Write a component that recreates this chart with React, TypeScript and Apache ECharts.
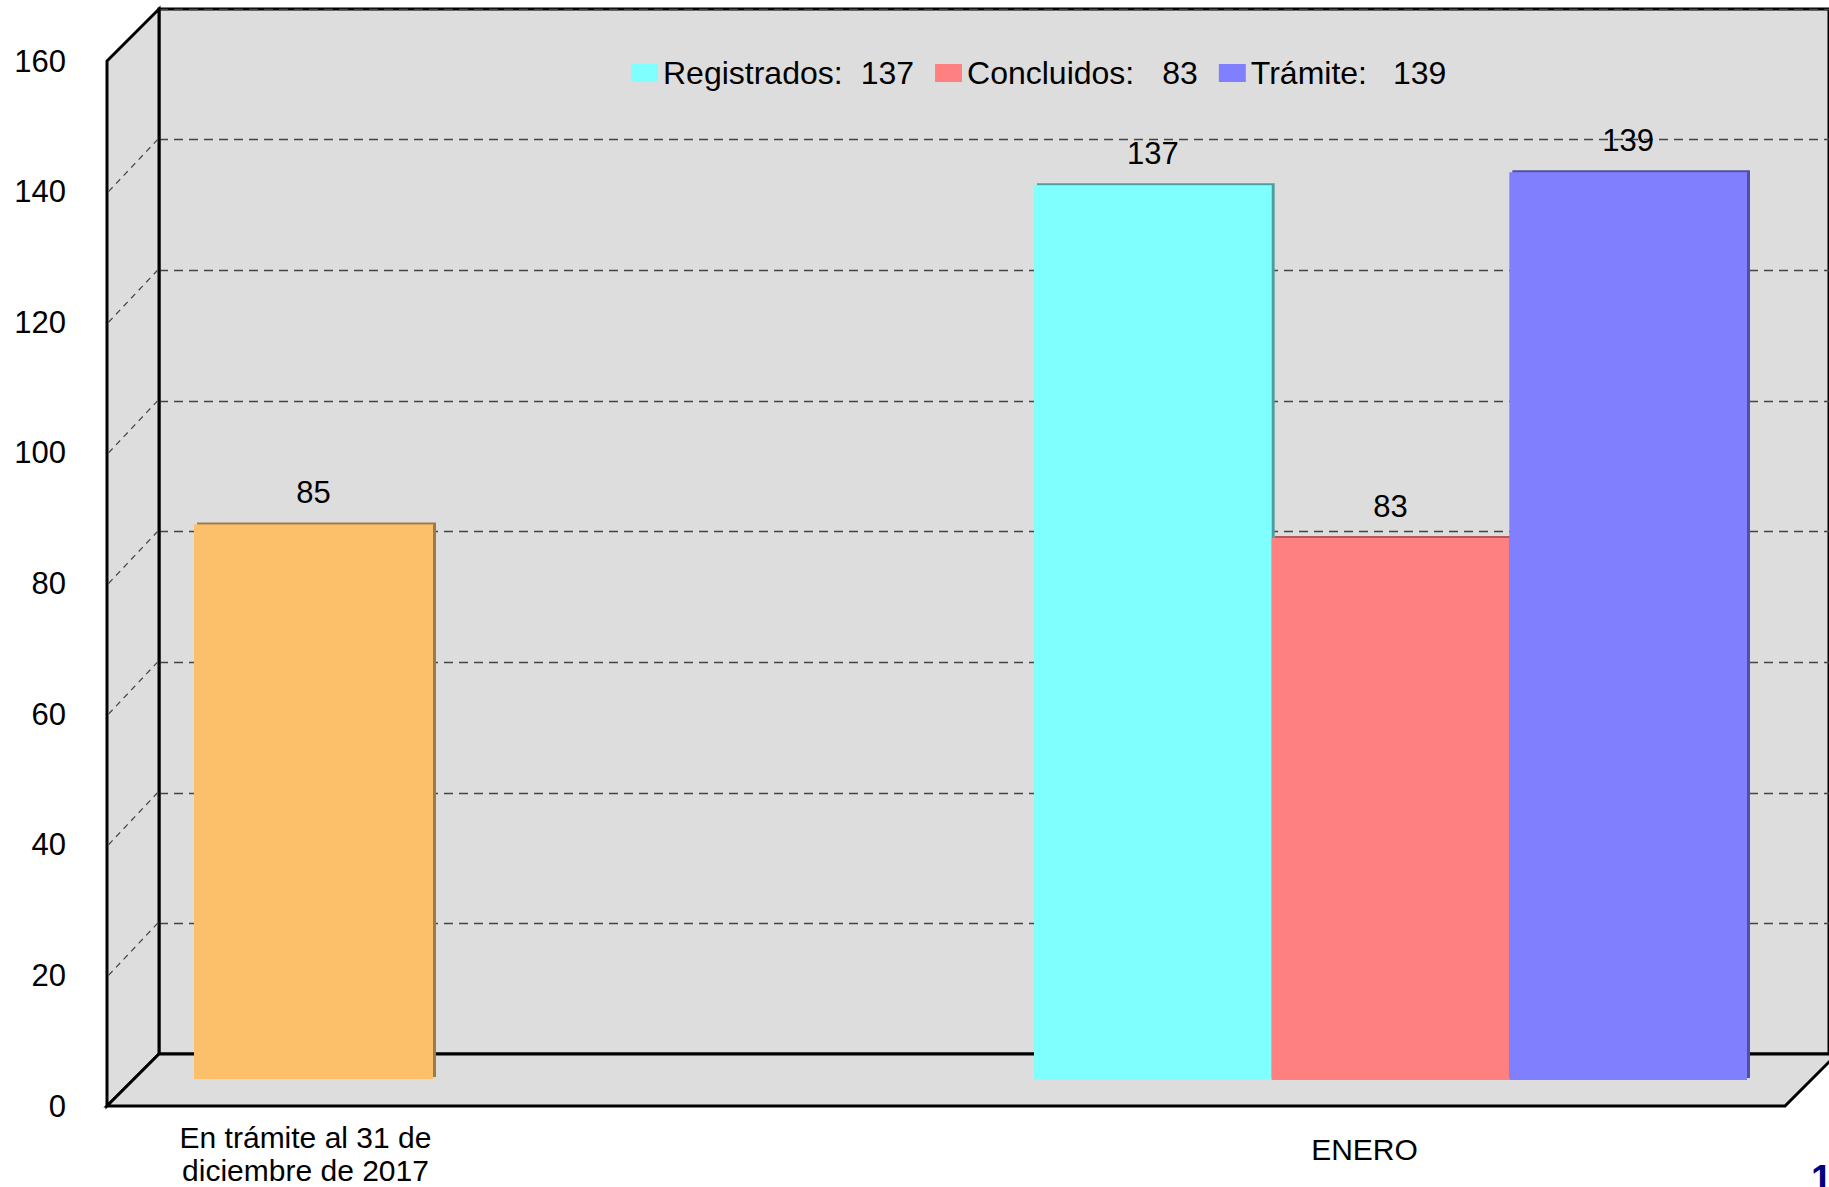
import React, { useEffect, useRef } from "react";
import * as echarts from "echarts";

// ---------- data ----------
const categories = ["En trámite al 31 de\ndiciembre de 2017", "ENERO"];
const pendingDec2017 = [85];
const registrados = [137];
const concluidos = [83];
const tramite = [139];
const legendNames = ["Registrados", "Concluidos", "Trámite"];
const legendValues = [137, 83, 139];
const yTicks = [0, 20, 40, 60, 80, 100, 120, 140, 160];
const Y_MAX = 160;
const Y_STEP = 20;

// ---------- style ----------
const FONT = "'Liberation Sans', Arial, sans-serif";
const WALL = "#DDDDDD";
const COL = { pend: "#FDC06B", reg: "#80FFFF", con: "#FF8080", tra: "#8080FF" };
const SIDE = { pend: "#9C7A48", reg: "#4E9E9E", con: "#B05A5A", tra: "#4F4FA8" };
const DX = 52; // depth offset (front -> back)
const DY = 52;
const FRONT = { left: 107, top: 61, width: 1678, height: 1045 };
const MID_TOP = FRONT.top - DY / 2;

export default function App() {
  const ref = useRef<HTMLDivElement>(null);
  useEffect(() => {
    if (!ref.current) return;
    const chart = echarts.init(ref.current, undefined, { renderer: "svg" });

    const barLabel = {
      show: true,
      position: "top",
      distance: 16,
      fontSize: 31,
      color: "#000",
      fontFamily: FONT,
    };
    const sideStyle = (c: string, s: string) => ({
      color: c,
      shadowColor: s,
      shadowOffsetX: 3,
      shadowOffsetY: -2,
      shadowBlur: 0,
    });

    const option: any = {
      animation: false,
      backgroundColor: "#ffffff",
      textStyle: { fontFamily: FONT },
      grid: [
        // 0: front plane (y labels, side wall, floor)
        { left: FRONT.left, top: FRONT.top, width: FRONT.width, height: FRONT.height, containLabel: false },
        // 1: back wall
        {
          left: FRONT.left + DX,
          top: FRONT.top - DY,
          width: FRONT.width + 10,
          height: FRONT.height,
          show: true,
          backgroundColor: WALL,
          borderColor: "#000",
          borderWidth: 3,
        },
        // 2: first category bar (mid depth)
        { left: 194, top: MID_TOP, width: 239, height: FRONT.height },
        // 3: ENERO bars (mid depth)
        { left: 1034, top: MID_TOP, width: 713, height: FRONT.height },
      ],
      xAxis: [
        { gridIndex: 0, type: "value", min: 0, max: 1, show: false },
        { gridIndex: 1, type: "value", min: 0, max: 1, show: false },
        {
          gridIndex: 2,
          type: "category",
          data: [categories[0]],
          axisLine: { show: false },
          axisTick: { show: false },
          axisLabel: {
            fontSize: 30,
            lineHeight: 33,
            color: "#000",
            margin: 42,
            padding: [0, 16, 0, 0],
            fontFamily: FONT,
          },
        },
        {
          gridIndex: 3,
          type: "category",
          data: [categories[1]],
          axisLine: { show: false },
          axisTick: { show: false },
          axisLabel: {
            fontSize: 30,
            color: "#000",
            margin: 54,
            padding: [0, 52, 0, 0],
            fontFamily: FONT,
          },
        },
      ],
      yAxis: [
        {
          gridIndex: 0,
          type: "value",
          min: 0,
          max: Y_MAX,
          interval: Y_STEP,
          axisLine: { show: false },
          axisTick: { show: false },
          splitLine: { show: false },
          axisLabel: { fontSize: 31, color: "#000", margin: 41, fontFamily: FONT },
        },
        {
          gridIndex: 1,
          type: "value",
          min: 0,
          max: Y_MAX,
          interval: Y_STEP,
          axisLine: { show: false },
          axisTick: { show: false },
          axisLabel: { show: false },
          splitLine: { show: true, lineStyle: { color: "#444", width: 1.3, type: [9, 6] } },
        },
        { gridIndex: 2, type: "value", min: 0, max: Y_MAX, interval: Y_STEP, show: false },
        { gridIndex: 3, type: "value", min: 0, max: Y_MAX, interval: Y_STEP, show: false },
      ],
      legend: {
        data: legendNames,
        left: 626,
        top: 52,
        itemWidth: 27,
        itemHeight: 18,
        itemGap: 21,
        icon: "rect",
        textStyle: {
          fontSize: 32,
          color: "#000",
          fontFamily: FONT,
          rich: {
            n: { fontSize: 32, color: "#000", fontFamily: FONT },
            v0: { fontSize: 32, color: "#000", fontFamily: FONT, padding: [0, 0, 0, 18] },
            v1: { fontSize: 32, color: "#000", fontFamily: FONT, padding: [0, 0, 0, 28] },
            v2: { fontSize: 32, color: "#000", fontFamily: FONT, padding: [0, 0, 0, 26] },
          },
        },
        formatter: (name: string) => {
          const i = legendNames.indexOf(name);
          return `{n|${name}:}{v${i}|${legendValues[i]}}`;
        },
      },
      series: [
        {
          type: "custom",
          name: "frame",
          xAxisIndex: 0,
          yAxisIndex: 0,
          z: 1,
          silent: true,
          data: yTicks.map((v) => [0, v]),
          renderItem: (params: any, api: any) => {
            const cs = params.coordSys;
            const v = api.value(1);
            const p = api.coord([0, v]);
            const x0 = cs.x;
            const top = cs.y;
            const bot = cs.y + cs.height;
            const children: any[] = [];
            if (params.dataIndexInside === 0) {
              children.push({
                type: "polygon",
                z2: 0,
                shape: {
                  points: [
                    [x0, top],
                    [x0 + DX, top - DY],
                    [x0 + DX, bot - DY],
                    [x0, bot],
                  ],
                },
                style: { fill: WALL, stroke: "#000", lineWidth: 3 },
              });
              children.push({
                type: "polygon",
                z2: 0,
                shape: {
                  points: [
                    [x0, bot],
                    [x0 + DX, bot - DY],
                    [x0 + cs.width + DX, bot - DY],
                    [x0 + cs.width, bot],
                  ],
                },
                style: { fill: WALL, stroke: "#000", lineWidth: 3 },
              });
            } else if (v < Y_MAX) {
              children.push({
                type: "line",
                z2: 10,
                shape: { x1: x0 + 1.5, y1: p[1], x2: x0 + DX - 1.5, y2: p[1] - DY },
                style: { stroke: "#444", lineWidth: 1.2, lineDash: [6, 5] },
              });
            }
            return { type: "group", children };
          },
        },
        {
          type: "bar",
          name: "En trámite al 31 de diciembre de 2017",
          xAxisIndex: 2,
          yAxisIndex: 2,
          data: pendingDec2017,
          barWidth: "100%",
          itemStyle: sideStyle(COL.pend, SIDE.pend),
          label: barLabel,
          z: 3,
        },
        {
          type: "bar",
          name: legendNames[0],
          xAxisIndex: 3,
          yAxisIndex: 3,
          data: registrados,
          barGap: "0%",
          barCategoryGap: "0%",
          itemStyle: sideStyle(COL.reg, SIDE.reg),
          label: barLabel,
          z: 3,
        },
        {
          type: "bar",
          name: legendNames[1],
          xAxisIndex: 3,
          yAxisIndex: 3,
          data: concluidos,
          barGap: "0%",
          barCategoryGap: "0%",
          itemStyle: sideStyle(COL.con, SIDE.con),
          label: barLabel,
          z: 3,
        },
        {
          type: "bar",
          name: legendNames[2],
          xAxisIndex: 3,
          yAxisIndex: 3,
          data: tramite,
          barGap: "0%",
          barCategoryGap: "0%",
          itemStyle: sideStyle(COL.tra, SIDE.tra),
          label: barLabel,
          z: 3,
        },
      ],
      graphic: [
        {
          type: "text",
          left: 1811,
          top: 1160,
          style: { text: "1", fontSize: 38, fontWeight: "bold", fill: "#000080", fontFamily: FONT },
        },
      ],
    };

    chart.setOption(option);
    return () => chart.dispose();
  }, []);

  return (
    <div
      ref={ref}
      style={{ position: "fixed", left: 0, top: 0, width: 1829, height: 1187 }}
    />
  );
}
